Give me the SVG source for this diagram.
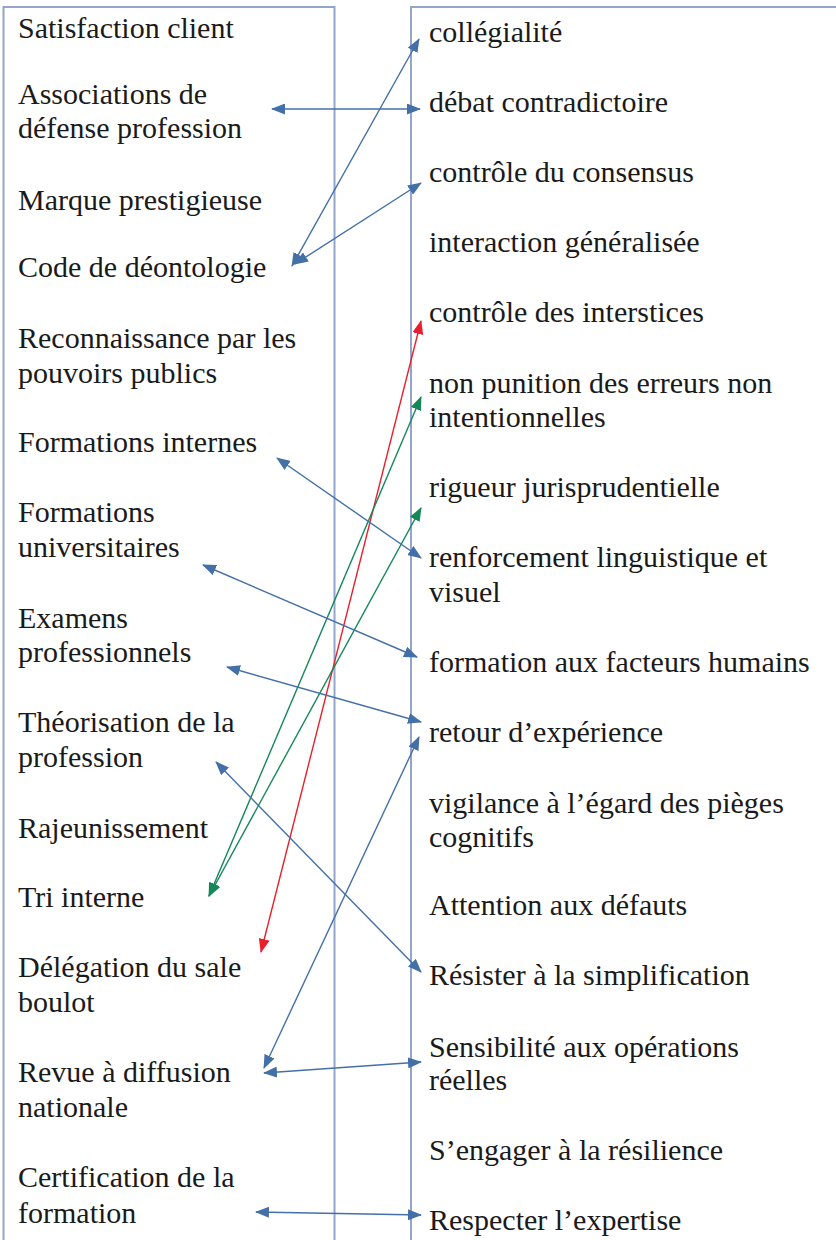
<svg xmlns="http://www.w3.org/2000/svg" width="836" height="1240" viewBox="0 0 836 1240">
<style>
text{font-family:'Liberation Serif','Tinos','DejaVu Serif',serif;font-size:30px;fill:#1a1a1a}
.box{fill:none;stroke:#93A6C9;stroke-width:2}
.cb{stroke:#4470A8;stroke-width:1.4;fill:none}
.cr{stroke:#E8202E;stroke-width:1.4;fill:none}
.cg{stroke:#15885A;stroke-width:1.4;fill:none}
</style>
<defs>
<marker id="ab" viewBox="0 0 14 11" refX="13" refY="5.5" markerWidth="14" markerHeight="11" markerUnits="userSpaceOnUse" orient="auto-start-reverse"><path d="M0,0 L14,5.5 L0,11 z" fill="#4470A8"/></marker>
<marker id="ar" viewBox="0 0 14 11" refX="13" refY="5.5" markerWidth="14" markerHeight="11" markerUnits="userSpaceOnUse" orient="auto-start-reverse"><path d="M0,0 L14,5.5 L0,11 z" fill="#E8202E"/></marker>
<marker id="ag" viewBox="0 0 14 11" refX="13" refY="5.5" markerWidth="14" markerHeight="11" markerUnits="userSpaceOnUse" orient="auto-start-reverse"><path d="M0,0 L14,5.5 L0,11 z" fill="#15885A"/></marker>
</defs>
<rect width="836" height="1240" fill="#ffffff"/>
<g id="frames">
<rect class="box" x="3.5" y="7" width="331" height="1260"/>
<rect class="box" x="411" y="7" width="460" height="1260"/>
</g>
<g id="left-nodes" font-family="Liberation Serif, DejaVu Serif, serif">
<g id="L1"><text x="18" y="38">Satisfaction client</text></g>
<g id="L2"><text x="18" y="104">Associations de<tspan x="18" y="138">défense profession</tspan></text></g>
<g id="L3"><text x="18" y="210">Marque prestigieuse</text></g>
<g id="L4"><text x="18" y="277">Code de déontologie</text></g>
<g id="L5"><text x="18" y="348">Reconnaissance par les<tspan x="18" y="383">pouvoirs publics</tspan></text></g>
<g id="L6"><text x="18" y="452">Formations internes</text></g>
<g id="L7"><text x="18" y="522">Formations<tspan x="18" y="557">universitaires</tspan></text></g>
<g id="L8"><text x="18" y="628">Examens<tspan x="18" y="662">professionnels</tspan></text></g>
<g id="L9"><text x="18" y="732">Théorisation de la<tspan x="18" y="767">profession</tspan></text></g>
<g id="L10"><text x="18" y="838">Rajeunissement</text></g>
<g id="L11"><text x="18" y="907">Tri interne</text></g>
<g id="L12"><text x="18" y="977">Délégation du sale<tspan x="18" y="1012">boulot</tspan></text></g>
<g id="L13"><text x="18" y="1082">Revue à diffusion<tspan x="18" y="1117">nationale</tspan></text></g>
<g id="L14"><text x="18" y="1187">Certification de la<tspan x="18" y="1223">formation</tspan></text></g>
</g>
<g id="right-nodes">
<g id="R1"><text x="429" y="42">collégialité</text></g>
<g id="R2"><text x="429" y="112">débat contradictoire</text></g>
<g id="R3"><text x="429" y="182">contrôle du consensus</text></g>
<g id="R4"><text x="429" y="252">interaction généralisée</text></g>
<g id="R5"><text x="429" y="322">contrôle des interstices</text></g>
<g id="R6"><text x="429" y="393">non punition des erreurs non<tspan x="429" y="427">intentionnelles</tspan></text></g>
<g id="R7"><text x="429" y="497">rigueur jurisprudentielle</text></g>
<g id="R8"><text x="429" y="567">renforcement linguistique et<tspan x="429" y="602">visuel</tspan></text></g>
<g id="R9"><text x="429" y="672">formation aux facteurs humains</text></g>
<g id="R10"><text x="429" y="742">retour d’expérience</text></g>
<g id="R11"><text x="429" y="813">vigilance à l’égard des pièges<tspan x="429" y="847">cognitifs</tspan></text></g>
<g id="R12"><text x="429" y="915">Attention aux défauts</text></g>
<g id="R13"><text x="429" y="985">Résister à la simplification</text></g>
<g id="R14"><text x="429" y="1057">Sensibilité aux opérations<tspan x="429" y="1090">réelles</tspan></text></g>
<g id="R15"><text x="429" y="1160">S’engager à la résilience</text></g>
<g id="R16"><text x="429" y="1230">Respecter l’expertise</text></g>
</g>
<g id="connectors">
<line class="cb" x1="272" y1="109" x2="420" y2="109" marker-start="url(#ab)" marker-end="url(#ab)"/>
<line class="cb" x1="292" y1="266" x2="419" y2="39" marker-start="url(#ab)" marker-end="url(#ab)"/>
<line class="cb" x1="295" y1="264" x2="421" y2="183" marker-start="url(#ab)" marker-end="url(#ab)"/>
<line class="cr" x1="261" y1="952" x2="421" y2="321" marker-start="url(#ar)" marker-end="url(#ar)"/>
<line class="cg" x1="209" y1="896" x2="421" y2="397" marker-start="url(#ag)" marker-end="url(#ag)"/>
<line class="cg" x1="209" y1="896" x2="421" y2="508" marker-start="url(#ag)" marker-end="url(#ag)"/>
<line class="cb" x1="277" y1="458" x2="421" y2="558" marker-start="url(#ab)" marker-end="url(#ab)"/>
<line class="cb" x1="203" y1="565" x2="417" y2="657" marker-start="url(#ab)" marker-end="url(#ab)"/>
<line class="cb" x1="227" y1="667" x2="421" y2="722" marker-start="url(#ab)" marker-end="url(#ab)"/>
<line class="cb" x1="264" y1="1068" x2="419" y2="737" marker-start="url(#ab)" marker-end="url(#ab)"/>
<line class="cb" x1="216" y1="762" x2="421" y2="972" marker-start="url(#ab)" marker-end="url(#ab)"/>
<line class="cb" x1="264" y1="1073" x2="421" y2="1062" marker-start="url(#ab)" marker-end="url(#ab)"/>
<line class="cb" x1="256" y1="1212" x2="421" y2="1215" marker-start="url(#ab)" marker-end="url(#ab)"/>
</g>
</svg>
